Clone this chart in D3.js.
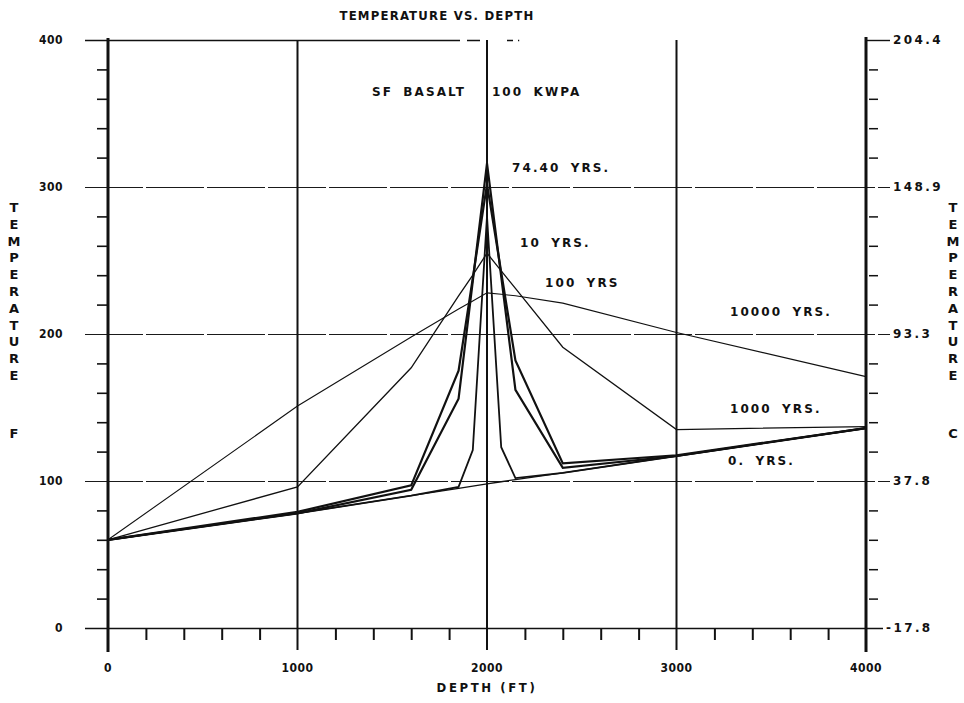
<!DOCTYPE html>
<html>
<head>
<meta charset="utf-8">
<script src="https://cdn.jsdelivr.net/npm/d3@7"></script>
<style>
  body { margin: 0; background: #fff; }
  text { fill: #111; }
</style>
</head>
<body>
<div id="chart"></div>
<script>
// depth nodes (ft) shared by every curve
const depthFt = [0, 1000, 1600, 1850, 1925, 2000, 2075, 2150, 2400, 3000, 4000];

// temperature (F) at each node
const yrs0     = [60, 78, 90, 95, 96.5, 98, 99.5, 101, 105.5, 117, 136];
const yrs10    = [60, 78, 90, 96, 121, 280, 123, 102, 105.5, 117, 136];
const yrs74    = [60, 78, 94, 156, 236, 316, 239, 162, 109, 117, 136];
const yrs100   = [60, 79, 97, 175, 238, 302, 242, 182, 112, 117.5, 136];
const yrs1000  = [60, 96, 177, 226, 240, 255, 243, 231, 191, 135, 137];
const yrs10000 = [60, 151, 198, 217, 222.5, 228, 227, 226, 221, 201, 171];

const xTicks = [0, 1000, 2000, 3000, 4000];
const yTicksF = [0, 100, 200, 300, 400];
const yTicksC = ["-17.8", "37.8", "93.3", "148.9", "204.4"];

const W = 964, H = 703;
const svg = d3.select("#chart").append("svg")
  .attr("width", W).attr("height", H)
  .attr("viewBox", [0, 0, W, H]);

const x = d3.scaleLinear().domain([0, 4000]).range([108, 866]);
const y = d3.scaleLinear().domain([0, 400]).range([628, 40]);
const yc = v => Math.round(y(v)) + 0.5;   // crisp horizontal lines

const numFont = "'Liberation Sans Narrow', 'DejaVu Sans Condensed', 'Arial Narrow', sans-serif";
const lblFont = "'DejaVu Sans', Verdana, sans-serif";

// horizontal grid lines (also act as long major ticks)
const hGrid = svg.append("g");
hGrid.selectAll("line").data([100, 200, 300]).join("line")
  .attr("x1", x(0) - 23).attr("x2", x(4000) + 24)
  .attr("y1", d => yc(d)).attr("y2", d => yc(d))
  .attr("stroke", "#1a1a1a").attr("stroke-width", 1)
  .attr("stroke-dasharray", "58,3");
hGrid.append("line")
  .attr("x1", x(0) - 23).attr("x2", x(4000) + 17)
  .attr("y1", yc(0)).attr("y2", yc(0))
  .attr("stroke", "#111").attr("stroke-width", 1.6);
// broken top border
hGrid.append("line")
  .attr("x1", x(0) - 23).attr("x2", x(2170))
  .attr("y1", yc(400)).attr("y2", yc(400))
  .attr("stroke", "#111").attr("stroke-width", 1.6)
  .attr("stroke-dasharray", "375,7,13,27,6,5,5,400");
svg.append("line")
  .attr("x1", x(4000)).attr("x2", x(4000) + 24)
  .attr("y1", yc(400)).attr("y2", yc(400))
  .attr("stroke", "#111").attr("stroke-width", 1.4);

// vertical grid lines
svg.append("g").selectAll("line").data([1000, 2000, 3000]).join("line")
  .attr("x1", d => x(d)).attr("x2", d => x(d))
  .attr("y1", y(400)).attr("y2", y(0) + 22)
  .attr("stroke", "#111").attr("stroke-width", 2);

// left axis
const minorF = d3.range(0, 401, 20).filter(v => v % 100 !== 0);
const leftAx = svg.append("g").attr("transform", `translate(${x(0)},0)`)
  .call(d3.axisLeft(y).tickValues(minorF).tickSize(11).tickFormat(""));
leftAx.select(".domain").remove();
leftAx.selectAll("line").attr("stroke", "#111").attr("stroke-width", 1.6);
svg.append("line")
  .attr("x1", x(0)).attr("x2", x(0))
  .attr("y1", y(400) - 2).attr("y2", y(0) + 24)
  .attr("stroke", "#111").attr("stroke-width", 3);
svg.append("g").selectAll("text").data(yTicksF).join("text")
  .attr("x", x(0) - 45).attr("y", d => y(d)).attr("dy", "0.36em")
  .attr("text-anchor", "end")
  .style("font", `bold 12px ${numFont}`).style("letter-spacing", "0.5px")
  .text(d => d);

// right axis (Celsius)
const rightAx = svg.append("g").attr("transform", `translate(${x(4000) + 3},0)`)
  .call(d3.axisRight(y).tickValues(minorF).tickSize(9).tickFormat(""));
rightAx.select(".domain").remove();
rightAx.selectAll("line").attr("stroke", "#111").attr("stroke-width", 1.5);
svg.append("line")
  .attr("x1", x(4000)).attr("x2", x(4000))
  .attr("y1", y(400) - 3).attr("y2", y(0) + 24)
  .attr("stroke", "#111").attr("stroke-width", 3);
svg.append("g").selectAll("text").data(yTicksF).join("text")
  .attr("x", (d, i) => x(4000) + (yTicksC[i].startsWith("-") ? 20 : 27))
  .attr("y", d => y(d)).attr("dy", "0.36em")
  .style("font", `bold 12px ${lblFont}`).style("letter-spacing", "2.4px")
  .text((d, i) => yTicksC[i]);

// bottom axis
const minorX = d3.range(200, 4000, 200).filter(v => v % 1000 !== 0);
const botAx = svg.append("g").attr("transform", `translate(0,${y(0)})`)
  .call(d3.axisBottom(x).tickValues(minorX).tickSize(12).tickFormat(""));
botAx.select(".domain").remove();
botAx.selectAll("line").attr("stroke", "#111").attr("stroke-width", 2);
svg.append("g").selectAll("text").data(xTicks).join("text")
  .attr("x", d => x(d)).attr("y", y(0) + 44)
  .attr("text-anchor", "middle")
  .style("font", `bold 12px ${numFont}`).style("letter-spacing", "0.5px")
  .text(d => d);

// curves
const series = [yrs0, yrs10, yrs74, yrs100, yrs1000, yrs10000];
const widths = [1.3, 1.8, 2.2, 2.2, 1.3, 1.1];
const line = d3.line().x((d, i) => x(depthFt[i])).y(d => y(d));
svg.append("g").selectAll("path").data(series).join("path")
  .attr("d", line)
  .attr("fill", "none").attr("stroke", "#111")
  .attr("stroke-width", (d, i) => widths[i])
  .attr("stroke-linejoin", "miter");

// annotations
const notes = [
  ["SF BASALT", 1393, 365],
  ["100 KWPA", 2026, 365],
  ["74.40 YRS.", 2132, 313],
  ["10 YRS.", 2174, 262],
  ["100 YRS", 2306, 235],
  ["10000 YRS.", 3282, 215],
  ["1000 YRS.", 3282, 149],
  ["0. YRS.", 3272, 113.6]
];
svg.append("g").selectAll("text").data(notes).join("text")
  .attr("x", d => x(d[1])).attr("y", d => y(d[2])).attr("dy", "0.36em")
  .style("font", `bold 12px ${lblFont}`).style("letter-spacing", "2.1px")
  .style("word-spacing", "4px")
  .text(d => d[0]);

// titles
svg.append("text")
  .attr("x", 437).attr("y", 20).attr("text-anchor", "middle")
  .style("font", `bold 13px ${numFont}`).style("letter-spacing", "1.2px")
  .text("TEMPERATURE VS. DEPTH");
svg.append("text")
  .attr("x", x(2000)).attr("y", y(0) + 64).attr("text-anchor", "middle")
  .style("font", `bold 13px ${numFont}`).style("letter-spacing", "2.6px")
  .text("DEPTH (FT)");

function stacked(cx, word, unit) {
  const g = svg.append("g");
  g.selectAll("text").data(word.split("")).join("text")
    .attr("x", cx).attr("y", (d, i) => 212 + i * 16.8)
    .attr("text-anchor", "middle")
    .style("font", `bold 13px ${lblFont}`)
    .text(d => d);
  g.append("text").attr("x", cx).attr("y", 438)
    .attr("text-anchor", "middle")
    .style("font", `bold 13px ${lblFont}`)
    .text(unit);
}
stacked(14, "TEMPERATURE", "F");
stacked(953, "TEMPERATURE", "C");
</script>
</body>
</html>
